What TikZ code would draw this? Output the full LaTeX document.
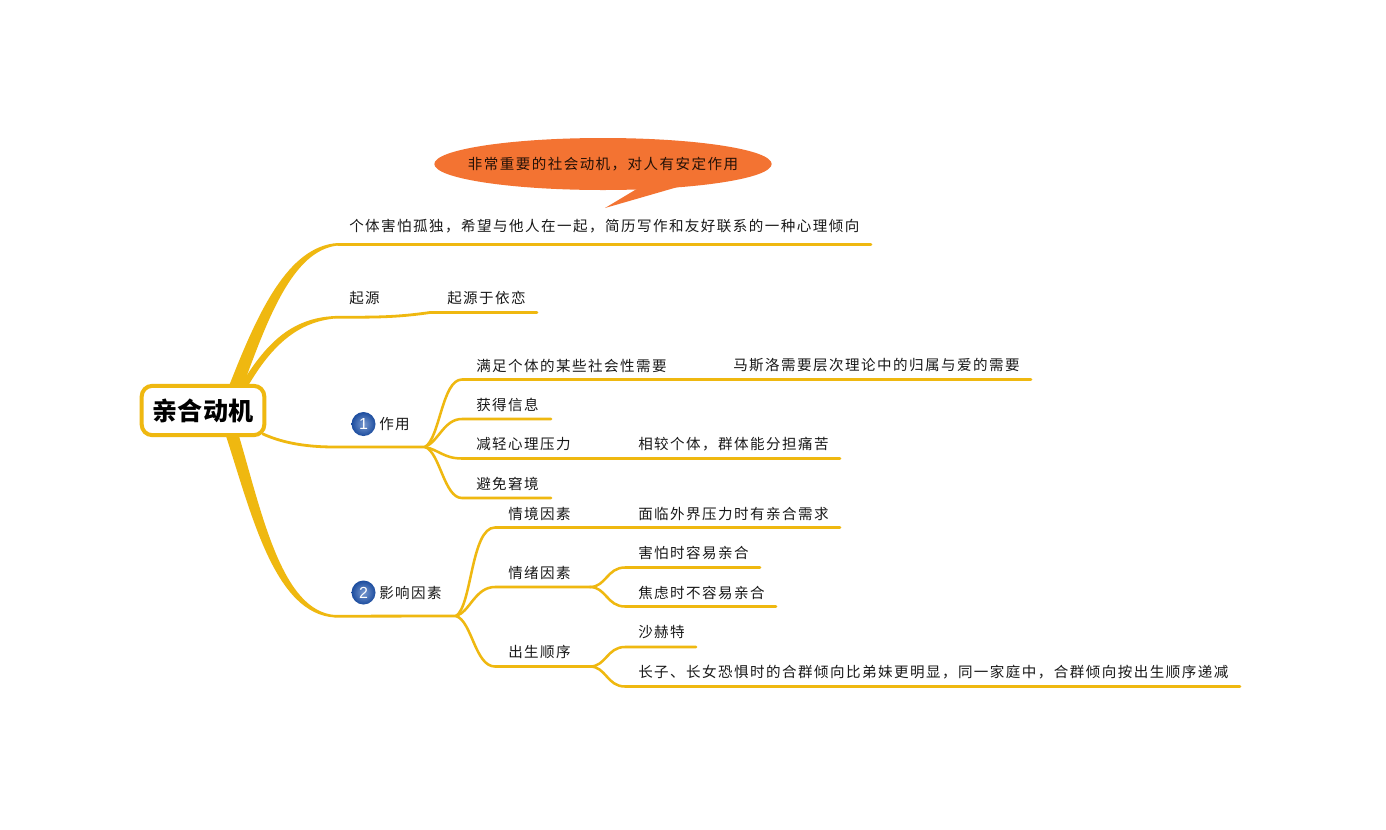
\documentclass[tikz,border=0pt]{standalone}
\usepackage{fontspec}
\usetikzlibrary{shapes.geometric}
\setmainfont{Noto Sans CJK SC}
\newfontfamily\cjk[LetterSpace=10]{Noto Sans CJK SC}
\newfontfamily\numfont{Liberation Sans}
\definecolor{branch}{HTML}{EFB810}
\definecolor{callout}{HTML}{F37332}
\definecolor{ball}{HTML}{1F55B0}
\tikzset{
  x=0.75pt,y=-0.75pt,
  lab/.style={anchor=west,inner sep=0pt,font=\cjk\fontsize{10.9pt}{12pt}\selectfont,text=black!90},
  thinb/.style={draw=branch,line width=1.9pt,line cap=round,fill=none},
  midb/.style={draw=branch,line width=2.1pt,line cap=round,fill=none},
  num/.style={circle,inner sep=0pt,minimum size=18pt,draw=none,shade,inner color=ball!60,outer color=ball!90!black,text=white,font=\numfont\fontsize{12pt}{12pt}\selectfont},
}
\begin{document}
\begin{tikzpicture}
\path[use as bounding box,fill=white] (0,0) rectangle (1386,829);
% anchors
\coordinate (r1a) at (229,386); \coordinate (r1b) at (243,386);
\coordinate (e1a) at (338,243); \coordinate (e1b) at (338,245.5); \coordinate (e1s) at (338,244.2); \coordinate (e1) at (871,244.2);
\coordinate (r2a) at (240,386); \coordinate (r2b) at (248,386);
\coordinate (e2a) at (335,316); \coordinate (e2b) at (335,318.5); \coordinate (e2s) at (335,317.2);
\coordinate (m2) at (430,312.5); \coordinate (e2) at (537,312.5);
\coordinate (r3) at (263,434); \coordinate (j3) at (425,447); \coordinate (s3) at (335,447);
\coordinate (r4a) at (226,436); \coordinate (r4b) at (239,436);
\coordinate (e4a) at (335,615); \coordinate (e4b) at (335,617.5); \coordinate (e4s) at (335,616.2); \coordinate (j4) at (456,616);
\coordinate (a1) at (462,379.5); \coordinate (a1e) at (1031,379.5);
\coordinate (a2) at (462,419); \coordinate (a2e) at (551,419);
\coordinate (a3) at (462,458.5); \coordinate (a3e) at (840,458.5);
\coordinate (a4) at (462,498); \coordinate (a4e) at (551,498);
\coordinate (b1) at (495,527.5); \coordinate (b1e) at (840,527.5);
\coordinate (b2) at (495,587); \coordinate (j5) at (590,587);
\coordinate (b3) at (495,666.5); \coordinate (j6) at (590,666.5);
\coordinate (c1) at (625,567.5); \coordinate (c1e) at (760,567.5);
\coordinate (c2) at (625,606.5); \coordinate (c2e) at (776,606.5);
\coordinate (d1) at (625,647); \coordinate (d1e) at (696,647);
\coordinate (d2) at (625,686.5); \coordinate (d2e) at (1240,686.5);
% thick tapered branches
\fill[branch] (r1a) .. controls (258,312) and (288,246) .. (e1a) -- (e1b) .. controls (293,250) and (268,318) .. (r1b) -- cycle;
\draw[midb] (e1s) -- (e1);
\fill[branch] (r2a) .. controls (265,345) and (290,318) .. (e2a) -- (e2b) .. controls (298,322) and (272,345) .. (r2b) -- cycle;
\draw[midb] (e2s) .. controls +(40,0) and +(-35,5) .. (m2) -- (e2);
\fill[branch] (r4a) .. controls (252,516) and (275,614) .. (e4b) -- (e4a) .. controls (282,611) and (262,514) .. (r4b) -- cycle;
\draw[midb] (e4s) -- (j4);
\draw[midb] (r3) .. controls (285,444) and (310,447) .. (s3) -- (j3);
% fans
\draw[thinb] (j3) .. controls +(15,-9) and +(-20,0) .. (a1) -- (a1e);
\draw[thinb] (j3) .. controls +(14,-6) and +(-18,0) .. (a2) -- (a2e);
\draw[thinb] (j3) .. controls +(14,3) and +(-18,0) .. (a3) -- (a3e);
\draw[thinb] (j3) .. controls +(15,5) and +(-18,0) .. (a4) -- (a4e);
\draw[thinb] (j4) .. controls +(16,-10) and +(-24,0) .. (b1) -- (b1e);
\draw[thinb] (j4) .. controls +(14,-4) and +(-20,0) .. (b2) -- (j5);
\draw[thinb] (j4) .. controls +(16,5) and +(-20,0) .. (b3) -- (j6);
\foreach \t/\e in {c1/c1e,c2/c2e}{
  \draw[thinb] (j5) .. controls +(16,0) and +(-18,0) .. (\t) -- (\e);
}
\foreach \t/\e in {d1/d1e,d2/d2e}{
  \draw[thinb] (j6) .. controls +(16,0) and +(-18,0) .. (\t) -- (\e);
}
% root
\node[draw=branch,line width=3pt,fill=white,rounded corners=8pt,minimum width=92pt,minimum height=37pt,inner sep=0pt,font=\fontsize{18.8pt}{20pt}\selectfont\bfseries,text=black] (root) at (203,410.5) {亲合动机};
% callout
\fill[callout] (640,187) -- (605,208) -- (695,182) -- cycle;
\node[ellipse,fill=callout,minimum width=253pt,minimum height=39pt,inner sep=0pt] (call) at (603,164) {};
\node[lab,anchor=center,text=black!85!callout] (calltext) at (603,164) {非常重要的社会动机，对人有安定作用};
% labels
\node[lab] (t1) at (349,226) {个体害怕孤独，希望与他人在一起，简历写作和友好联系的一种心理倾向};
\node[lab] (t2) at (349,298) {起源};
\node[lab] (t2b) at (447,298) {起源于依恋};
\node[num] (n1) at (363.5,424) {1};
\node[lab] (t3) at (379,424) {作用};
\node[lab] (ta1) at (476,365.5) {满足个体的某些社会性需要};
\node[lab] (ta1b) at (733,365.5) {马斯洛需要层次理论中的归属与爱的需要};
\node[lab] (ta2) at (476,405) {获得信息};
\node[lab] (ta3) at (476,444) {减轻心理压力};
\node[lab] (ta3b) at (638,444) {相较个体，群体能分担痛苦};
\node[lab] (ta4) at (476,484) {避免窘境};
\node[num] (n2) at (363.5,592.5) {2};
\node[lab] (t4) at (379,593) {影响因素};
\node[lab] (tb1) at (508,514) {情境因素};
\node[lab] (tb1b) at (638,514) {面临外界压力时有亲合需求};
\node[lab] (tb2) at (508,573) {情绪因素};
\node[lab] (tc1) at (638,553) {害怕时容易亲合};
\node[lab] (tc2) at (638,593) {焦虑时不容易亲合};
\node[lab] (tb3) at (508,652) {出生顺序};
\node[lab] (td1) at (638,632.5) {沙赫特};
\node[lab] (td2) at (638,672.5) {长子、长女恐惧时的合群倾向比弟妹更明显，同一家庭中，合群倾向按出生顺序递减};
\end{tikzpicture}
\end{document}
